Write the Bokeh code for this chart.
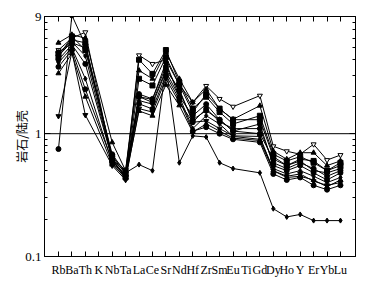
from bokeh.plotting import figure
from bokeh.models import FixedTicker, Range1d, LinearAxis, LogAxis, Span, ColumnDataSource
from bokeh.embed import file_html
from bokeh.resources import INLINE

elements = ["Rb", "Ba", "Th", "K", "Nb", "Ta", "La", "Ce", "Sr", "Nd", "Hf",
            "Zr", "Sm", "Eu", "Ti", "Gd", "Dy", "Ho", "Y", "Er", "Yb", "Lu"]

# rock / continental crust (K and Ti not plotted: None)
s1 = [4.8, 6.0, 6.7, None, 0.60, 0.45, 4.35, 3.7, 4.0, 2.5, 1.8, 2.45, 1.92, 1.66, None, 2.04, 0.79, 0.72, 0.68, 0.82, 0.61, 0.67]
s2 = [4.3, 5.6, 4.3, None, 0.62, 0.48, 0.56, 0.50, 3.6, 0.58, 0.96, 0.94, 0.58, 0.52, None, 0.48, 0.245, 0.21, 0.22, 0.196, 0.196, 0.196]
s3 = [0.75, 9.2, 5.3, None, 0.65, 0.47, 2.0, 1.9, 3.8, 2.0, 1.4, 1.74, 1.3, 1.05, None, 1.0, 0.62, 0.55, 0.60, 0.50, 0.48, 0.52]
s4 = [1.39, 4.65, 1.42, None, 0.55, 0.42, 1.6, 1.5, 2.8, 1.8, 1.24, 1.27, 1.1, 0.96, None, 0.95, 0.50, 0.45, 0.47, 0.41, 0.38, 0.40]
s5 = [5.5, 6.4, 6.0, None, 0.85, 0.50, 3.27, 2.8, 4.6, 2.8, 1.8, 2.3, 1.59, 1.31, None, 1.69, 0.72, 0.62, 0.70, 0.70, 0.55, 0.60]
s6 = [4.5, 5.8, 5.5, None, 0.60, 0.44, 2.8, 2.47, 4.2, 2.5, 1.5, 2.1, 1.6, 1.3, None, 1.3, 0.65, 0.55, 0.62, 0.60, 0.50, 0.55]
s7 = [4.0, 5.3, 3.7, None, 0.62, 0.45, 2.1, 1.92, 3.5, 2.2, 1.3, 1.54, 1.3, 1.05, None, 1.2, 0.55, 0.50, 0.55, 0.48, 0.42, 0.48]
s8 = [3.8, 5.0, 2.8, None, 0.58, 0.43, 1.86, 1.74, 3.2, 2.0, 1.1, 1.4, 1.2, 0.95, None, 0.90, 0.52, 0.47, 0.50, 0.45, 0.40, 0.44]
s9 = [3.5, 4.8, 2.3, None, 0.60, 0.46, 1.75, 1.59, 3.0, 1.9, 1.05, 1.13, 1.0, 0.90, None, 0.85, 0.47, 0.42, 0.44, 0.38, 0.35, 0.38]
s10 = [3.1, 4.5, 2.0, None, 0.56, 0.44, 1.53, 1.4, 2.5, 1.7, 1.03, 1.2, 1.05, 0.92, None, 0.88, 0.50, 0.44, 0.45, 0.42, 0.37, 0.42]
s11 = [4.2, 6.2, 4.8, None, 0.65, 0.50, 4.0, 3.07, 4.8, 2.6, 1.6, 2.0, 1.5, 1.2, None, 1.4, 0.68, 0.60, 0.65, 0.58, 0.50, 0.58]
s12 = [4.6, 5.5, 5.0, None, 0.68, 0.48, 2.0, 1.8, 3.3, 2.3, 1.24, 1.6, 1.25, 1.1, None, 1.1, 0.58, 0.52, 0.58, 0.52, 0.45, 0.50]

series = [s1, s2, s3, s4, s5, s6, s7, s8, s9, s10, s11, s12]
markers = ["inverted_triangle", "diamond", "circle", "inverted_triangle", "triangle",
           "square", "circle", "diamond", "circle", "triangle", "square", "circle"]
filled = [False, True, True, True, True, True, True, True, True, True, True, True]

y_ticks = [0.1, 1, 9]
y_labels = ["0.1", "1", "9"]

SERIF = "Liberation Serif"

p = figure(frame_width=311, frame_height=240, y_axis_type="log",
           x_range=Range1d(-1.04, 22.12), y_range=Range1d(0.1, 9),
           output_backend="svg", toolbar_location=None,
           min_border_left=44, min_border_right=20, min_border_top=16, min_border_bottom=5)
p.background_fill_color = "white"
p.border_fill_color = "white"
p.outline_line_color = "black"
p.xgrid.visible = False
p.ygrid.visible = False

p.add_layout(Span(location=1, dimension="width", line_color="black", line_width=1))

for vals, m, f in zip(series, markers, filled):
    xs = [i for i, v in enumerate(vals) if v is not None]
    ys = [v for v in vals if v is not None]
    src = ColumnDataSource(dict(x=xs, y=ys))
    p.line("x", "y", source=src, line_color="black", line_width=1)
    p.scatter("x", "y", source=src, marker=m, size=5, line_color="black",
              fill_color="black" if f else "white", line_width=1)

minor = [0.2, 0.3, 0.4, 0.5, 0.6, 0.7, 0.8, 0.9, 2, 3, 4, 5, 6, 7, 8]

# bottom axis
xa = p.xaxis[0]
xa.ticker = FixedTicker(ticks=list(range(len(elements))))
xa.major_label_overrides = {i: e for i, e in enumerate(elements)}
xa.major_tick_in = 5
xa.major_tick_out = 0
xa.minor_tick_line_color = None
xa.major_label_text_font = SERIF
xa.major_label_text_font_size = "12px"
xa.major_label_text_color = "black"
xa.major_label_standoff = 6
xa.axis_line_color = "black"

# left axis
ya = p.yaxis[0]
ya.ticker = FixedTicker(ticks=y_ticks, minor_ticks=minor)
ya.major_label_overrides = {t: l for t, l in zip(y_ticks, y_labels)}
ya.major_tick_in = 6
ya.major_tick_out = 0
ya.minor_tick_in = 3
ya.minor_tick_out = 0
ya.major_label_text_font = SERIF
ya.major_label_text_font_size = "13px"
ya.major_label_text_color = "black"
ya.major_label_standoff = 3
ya.axis_label = "岩石/陆壳"
ya.axis_label_text_font = "Noto Sans CJK SC"
ya.axis_label_text_font_size = "12px"
ya.axis_label_text_font_style = "normal"
ya.axis_label_text_color = "black"
ya.axis_label_standoff = -8

# top axis (ticks only)
ta = LinearAxis(ticker=FixedTicker(ticks=list(range(len(elements)))),
                major_tick_in=5, major_tick_out=0, minor_tick_line_color=None,
                major_label_text_color=None, major_label_text_font_size="1px",
                major_label_standoff=0)
p.add_layout(ta, "above")

# right axis (ticks only)
ra = LogAxis(ticker=FixedTicker(ticks=y_ticks, minor_ticks=minor),
             major_tick_in=6, major_tick_out=0, minor_tick_in=3, minor_tick_out=0,
             major_label_text_color=None, major_label_text_font_size="1px",
             major_label_standoff=0)
p.add_layout(ra, "right")

open("out.html", "w").write(file_html(p, INLINE))
